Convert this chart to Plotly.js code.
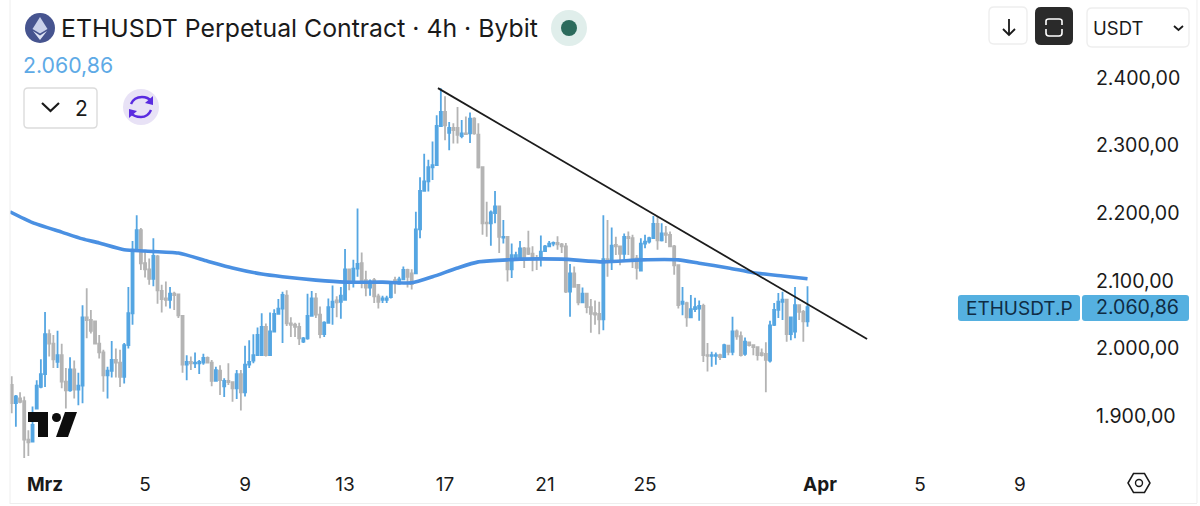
<!DOCTYPE html>
<html><head><meta charset="utf-8">
<script src="https://cdn.plot.ly/plotly-3.0.1.min.js"></script>
<style>html,body{margin:0;padding:0;background:#fff}#c{width:1200px;height:506px}</style>
</head><body><div id="c"></div>
<script>
const opens=[1946,1919,1926,1922,1865,1862,1911,1943,1962,2021,
2007,1980,1990,1951,1938,1969,1939,1945,2046,2042,
2040,2007,1994,1960,1967,1983,1979,1958,2005,2052,
2146,2175,2126,2117,2103,2136,2085,2074,2072,2081,
2080,2048,1976,1980,1978,1978,1979,1986,1979,1952,
1967,1944,1952,1950,1941,1962,1935,1976,1982,1990,
1990,2032,1990,2025,2051,2059,2078,2037,2035,2032,
2010,2015,2048,2074,2050,2021,2038,2061,2071,2069,
2072,2117,2101,2118,2126,2101,2090,2101,2077,2072,
2072,2076,2101,2096,2102,2116,2111,2111,2176,2233,
2247,2268,2271,2329,2350,2319,2326,2326,2314,2318,
2318,2340,2316,2268,2186,2185,2200,2210,2164,2165,
2117,2133,2133,2148,2148,2140,2133,2132,2144,2151,
2155,2156,2154,2151,2084,2111,2094,2068,2081,2061,
2052,2051,2043,2132,2130,2153,2151,2140,2165,2163,
2133,2115,2155,2158,2163,2184,2160,2170,2168,2151,
2123,2066,2067,2046,2058,2059,2063,1990,1989,1989,
1990,1987,2004,1995,2025,2018,1992,2009,2005,2002,
1993,1992,1982,2035,2057,2069,2072,2021,2025,2064,2054,2040];
const highs=[1959,1931,1935,1929,1879,1914,1953,1984,2054,2028,
2020,2026,2007,1971,1987,1982,1964,2064,2089,2057,
2041,2020,1998,1973,2011,2000,1998,2008,2091,2159,
2197,2178,2143,2133,2163,2138,2094,2099,2091,2084,
2081,2049,1990,1988,1994,1983,1992,1988,1983,1973,
1975,1956,1978,1951,1968,1968,2004,2012,2021,2031,
2052,2037,2053,2058,2073,2084,2086,2046,2038,2038,
2017,2081,2085,2082,2062,2040,2074,2093,2077,2091,
2147,2118,2131,2207,2142,2115,2102,2104,2081,2078,
2078,2099,2106,2106,2121,2118,2117,2202,2253,2288,
2279,2306,2345,2385,2373,2335,2333,2357,2338,2343,
2349,2342,2333,2269,2217,2204,2233,2210,2190,2165,
2155,2143,2159,2150,2174,2151,2138,2167,2153,2159,
2158,2166,2156,2156,2125,2121,2094,2090,2082,2073,
2071,2069,2197,2190,2179,2165,2151,2170,2173,2168,
2138,2163,2168,2165,2196,2196,2185,2181,2173,2153,
2123,2091,2069,2079,2075,2071,2066,2008,1995,1994,
1992,2007,2005,2047,2028,2025,2016,2010,2005,2003,
2000,2009,2041,2067,2082,2084,2073,2047,2091,2064,2057,2092];
const lows=[1904,1884,1919,1838,1841,1861,1911,1941,1943,1988,
1971,1971,1941,1911,1936,1926,1916,1919,2015,2022,
2006,1985,1936,1926,1957,1957,1943,1948,2000,2035,
2143,2116,2105,2094,2092,2066,2053,2062,2059,2057,
2045,1964,1953,1968,1971,1962,1976,1978,1944,1951,
1931,1928,1946,1921,1925,1908,1929,1971,1978,1990,
1990,1988,1990,2025,2050,2008,2033,2017,2017,2005,
2008,2013,2047,2045,2015,2017,2037,2035,2046,2044,
2072,2086,2090,2106,2089,2077,2078,2067,2059,2067,
2067,2074,2081,2094,2101,2090,2087,2111,2163,2232,
2232,2249,2270,2328,2308,2293,2303,2303,2311,2316,
2304,2316,2266,2168,2165,2152,2185,2141,2155,2099,
2104,2131,2133,2119,2138,2114,2116,2121,2143,2150,
2151,2146,2141,2082,2047,2091,2064,2067,2052,2023,
2035,2021,2027,2106,2116,2138,2123,2131,2138,2119,
2102,2115,2148,2155,2163,2146,2158,2156,2151,2109,
2059,2049,2032,2045,2054,2041,1980,1966,1973,1976,
1983,1987,1990,1990,2013,1988,1989,2003,1990,1982,
1988,1935,1979,2033,2045,2042,2010,2012,2015,2042,2010,2032];
const closes=[1919,1929,1921,1865,1861,1887,1945,1962,2021,2007,
1984,1990,1951,1938,1969,1939,1945,2046,2042,2026,
2007,1994,1960,1967,1983,1979,1958,2005,2052,2146,
2175,2126,2117,2103,2137,2086,2073,2072,2081,2079,
2049,1976,1980,1978,1979,1980,1986,1979,1952,1968,
1953,1952,1950,1941,1962,1935,1976,1980,1990,2020,
2032,1990,2025,2051,2059,2079,2037,2035,2032,2015,
2015,2048,2074,2050,2021,2038,2061,2069,2068,2078,
2117,2101,2118,2125,2101,2090,2099,2077,2069,2074,
2074,2098,2098,2102,2116,2106,2095,2176,2233,2247,
2268,2271,2329,2350,2330,2326,2323,2316,2318,2317,
2340,2318,2268,2185,2185,2201,2210,2165,2165,2117,
2138,2138,2148,2133,2140,2133,2132,2143,2151,2155,
2156,2154,2151,2084,2111,2091,2068,2081,2061,2051,
2050,2043,2132,2130,2152,2151,2140,2165,2163,2133,
2119,2155,2158,2163,2184,2160,2170,2168,2151,2123,
2064,2069,2046,2058,2061,2063,1990,1989,1990,1990,
1987,2005,1995,2025,2018,1990,2010,2005,2002,1990,
1990,1983,2034,2057,2069,2072,2021,2046,2064,2054,2040,2060.86];
const maBars=[-0.41,5,12,17,21,27,32,40,47,53,60,65,73,80,89,96,101,107,112,119,122,132,142,151,160,165,172,178,185,191];
const maValues=[2202,2186,2172,2162,2156,2146,2144,2141,2129,2119,2110,2106,2101,2098,2098,2097,2106,2119,2128,2131,2132,2132,2128,2131,2131,2126,2119,2112,2107,2103];
const trendBars=[102.3,205.3];
const trendValues=[2385,2014];
const tickBars=[8,32,56,80,104,128,152,194,218,242];
const tickLabels=['<b>Mrz</b>','5','9','13','17','21','25','<b>Apr</b>','5','9'];
const priceTicks=[1900,2000,2100,2200,2300,2400];

const FONT='Inter, "Noto Sans", sans-serif';
const L=10,R=1090,T=60,B=462;
const px=x=>(x-L)/(R-L), py=y=>(B-y)/(B-T);
const barTime=i=>{const d=new Date(Date.UTC(2026,1,27,16)+i*4*3600*1000);return d.toISOString().slice(0,19).replace('T',' ');};
const bars=opens.map((_,i)=>barTime(i));

const path=s=>s.replace(/(-?[\d.]+),(-?[\d.]+)/g,(m,a,b)=>px(+a).toFixed(5)+','+py(+b).toFixed(5));
const base={xref:'paper',yref:'paper',layer:'above'};
const fillP=(d,c)=>({...base,type:'path',path:path(d),fillcolor:c,line:{width:0}});
const lineP=(d,c,w)=>({...base,type:'path',path:path(d),line:{color:c,width:w}});
const circle=(cx,cy,r,c,lc,lw)=>({...base,type:'circle',x0:px(cx-r),x1:px(cx+r),y0:py(cy+r),y1:py(cy-r),fillcolor:c,line:lc?{color:lc,width:lw}:{width:0}});
const round=(x0,y0,x1,y1,r)=>`M${x0+r},${y0} L${x1-r},${y0} Q${x1},${y0} ${x1},${y0+r} L${x1},${y1-r} Q${x1},${y1} ${x1-r},${y1} L${x0+r},${y1} Q${x0},${y1} ${x0},${y1-r} L${x0},${y0+r} Q${x0},${y0} ${x0+r},${y0} Z`;
const box=(x0,y0,x1,y1,r,fill,lc,lw)=>({...base,type:'path',path:path(round(x0,y0,x1,y1,r)),fillcolor:fill,line:lc?{color:lc,width:lw}:{width:0}});

const shapes=[
 lineP('M10,0 L10,504','#eeeeee',1),
 lineP('M1197,0 L1197,503','#eeeeee',1),
 lineP('M10,503.5 L1197,503.5','#eeeeee',1),
 circle(40,28,15,'#46548f'),
 fillP('M40,17 L47.5,29 L40,33.5 L32.5,29 Z','#c9d1ea'),
 fillP('M40,35.5 L47,31 L40,40 L33,31 Z','#dfe4f4'),
 circle(569,28,18,'#e0eeeb'),
 circle(569,28,8,'#2c6b5c'),
 box(24,88,97,128,4,'#ffffff','#dcdcdc',1.4),
 lineP('M42,103 L50.5,111 L59,103','#1a1a1a',2.2),
 circle(141,107,18,'#e8e2f6'),
 lineP('M131,104 Q134,97 142,97 Q148,97 151,101','#5a2be0',2.4),
 lineP('M151,110 Q148,117 141,117 Q134,117 131,113','#5a2be0',2.4),
 fillP('M153,96 L153,105 L145,103 Z','#5a2be0'),
 fillP('M129,118 L129,109 L137,111 Z','#5a2be0'),
 box(989,7,1027,44,5,'#ffffff','#eeeeee',1.4),
 lineP('M1009,19 L1009,35 M1003,29 L1009,35 L1015,29','#1a1a1a',1.8),
 box(1035,7,1073,45,6,'#2a2a2a'),
 lineP('M1046,25 L1046,21 Q1046,19 1049,19 L1059,19 Q1062,19 1062,21 L1062,25 M1046,29 L1046,33 Q1046,36 1049,36 L1059,36 Q1062,36 1062,33 L1062,29','#ffffff',1.6),
 box(1087,8,1189,47,5,'#ffffff','#eeeeee',1.4),
 lineP('M1174,26 L1178.5,30 L1183,26','#1a1a1a',1.8),
 box(958,295,1080,321,3,'#55b0e0'),
 box(1082,295,1189,321,3,'#55b0e0'),
 lineP('M1128,483 L1133.5,473.5 L1144.5,473.5 L1150,483 L1144.5,492.5 L1133.5,492.5 Z','#1a1a1a',1.5),
 circle(1139,483,3.5,'rgba(0,0,0,0)','#1a1a1a',1.4),
 fillP('M28,412 L48,412 L48,437 L38,437 L38,422 L28,422 Z','#0d0d0d'),
 circle(56.5,417.5,4.5,'#0d0d0d'),
 fillP('M65,412 L77,412 L68,437 L56,437 Z','#0d0d0d'),
];
const note=(text,x,y,size,color,anchor)=>({xref:'paper',yref:'paper',x:px(x),y:py(y),text,showarrow:false,xanchor:anchor||'left',yanchor:'middle',font:{family:FONT,size,color},borderpad:0,borderwidth:0});
const annotations=[
 note('ETHUSDT Perpetual Contract · 4h · Bybit',60.5,28,24.8,'#1a1a1a'),
 note('2.060,86',23,65,21.3,'#5eaae6'),
 note('2',75,108,21,'#1a1a1a'),
 note('USDT',1093,28,18.5,'#1a1a1a'),
 note('ETHUSDT.P',966,308,19,'#0f2c44'),
 note('2.060,86',1096,307,19.6,'#0f2c44'),
];
const rangeBar=[-0.41,258.8];
const traces=[
 {type:'scatter',mode:'lines',x:maBars.map(barTime),y:maValues,line:{color:'#4a90e2',width:3.6,shape:'spline',smoothing:0.6},hoverinfo:'skip',showlegend:false},
 {type:'candlestick',x:bars,open:opens,high:highs,low:lows,close:closes,
  increasing:{line:{color:'#55a6e2',width:1.8},fillcolor:'#55a6e2'},
  decreasing:{line:{color:'#b4b4b4',width:1.8},fillcolor:'#b4b4b4'},
  whiskerwidth:0,showlegend:false},
 {type:'scatter',mode:'lines',x:trendBars.map(barTime),y:trendValues,line:{color:'#1c1c1c',width:1.8},hoverinfo:'skip',showlegend:false},
];
Plotly.newPlot('c',traces,{
 width:1200,height:506,
 margin:{l:L,r:1200-R,t:T,b:506-B,pad:0},
 paper_bgcolor:'#fff',plot_bgcolor:'#fff',
 separators:',.',showlegend:false,boxgap:0.3,
 font:{family:FONT,color:'#1a1a1a'},
 xaxis:{type:'date',range:rangeBar.map(barTime),rangeslider:{visible:false},showgrid:false,zeroline:false,showline:false,
  tickmode:'array',tickvals:tickBars.map(barTime),ticktext:tickLabels,ticks:'outside',ticklen:5,tickcolor:'rgba(0,0,0,0)',
  tickfont:{family:FONT,size:19,color:'#1a1a1a'}},
 yaxis:{side:'right',range:[1832,2426.6],showgrid:false,zeroline:false,showline:false,
  tickmode:'array',tickvals:priceTicks,tickformat:',.2f',ticks:'outside',ticklen:1,tickcolor:'rgba(0,0,0,0)',
  tickfont:{family:FONT,size:19.6,color:'#1a1a1a'}},
 shapes,annotations
},{displayModeBar:false,staticPlot:true});
</script></body></html>
